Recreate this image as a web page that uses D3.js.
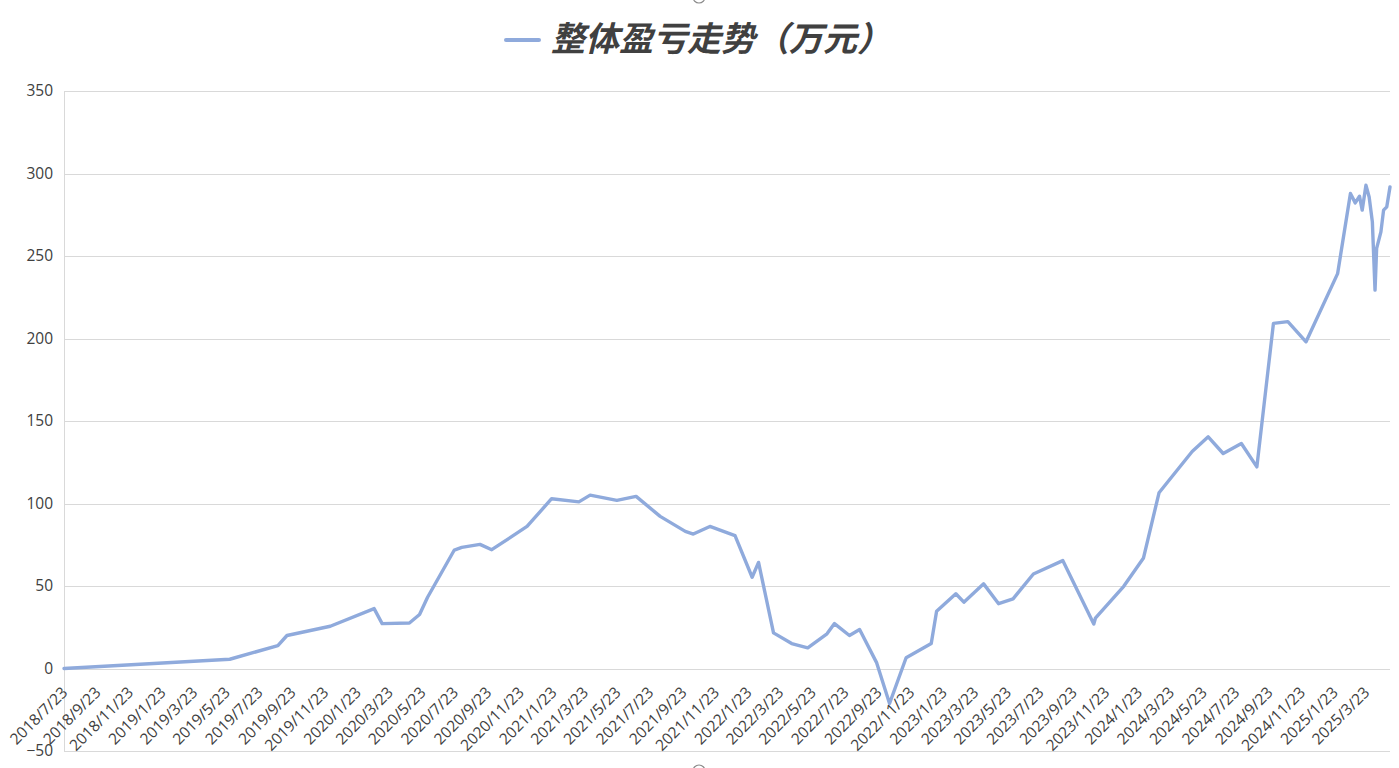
<!DOCTYPE html>
<html>
<head>
<meta charset="utf-8">
<script src="https://cdn.jsdelivr.net/npm/d3@7/dist/d3.min.js"></script>
<style>
  html, body { margin: 0; padding: 0; background: #ffffff; }
  svg { display: block; }
</style>
</head>
<body>
<svg id="chart" width="1399" height="768"></svg>
<script>
// ---- data ----
const dates = [
  "2018-07-23","2019-05-29","2019-08-27","2019-09-13","2019-12-03","2020-02-23","2020-03-09",
  "2020-04-29","2020-05-18","2020-06-02","2020-07-22","2020-08-05","2020-09-08","2020-09-30",
  "2020-12-05","2021-01-20","2021-03-12","2021-04-02","2021-05-22","2021-06-27","2021-08-11",
  "2021-09-27","2021-10-12","2021-11-12","2021-12-29","2022-01-30","2022-02-11","2022-03-11",
  "2022-04-14","2022-05-14","2022-06-19","2022-07-03","2022-07-31","2022-08-19","2022-09-20",
  "2022-10-14","2022-11-14","2022-12-31","2023-01-10","2023-02-15","2023-03-02","2023-04-08",
  "2023-05-06","2023-06-02","2023-07-10","2023-09-03","2023-10-31","2023-11-03","2023-12-26",
  "2024-02-01","2024-03-01","2024-05-02","2024-06-01","2024-06-29","2024-08-02","2024-08-31",
  "2024-10-01","2024-10-28","2024-12-01","2025-01-29","2025-02-22","2025-03-03","2025-03-11",
  "2025-03-16","2025-03-23","2025-03-29","2025-04-04","2025-04-09","2025-04-12","2025-04-20",
  "2025-04-25","2025-05-01","2025-05-07"
];
const profit = [
  0, 5.6, 13.9, 20, 25.6, 36.3, 27.2,
  27.6, 32.7, 43.2, 71.8, 73.4, 75.2, 72,
  86.1, 102.9, 101, 105.1, 101.9, 104.3, 92.2,
  83.1, 81.5, 86.1, 80.5, 55.3, 64.3, 21.6,
  15.1, 12.5, 21, 27.2, 20, 23.6, 3.4,
  -21.2, 6.5, 15.1, 34.7, 45.3, 40.2, 51.3,
  39.3, 42.2, 57.3, 65.4, 27, 30.5, 49.8,
  67, 106.5, 131.5, 140.4, 130.3, 136.4, 122.2,
  209.2, 210.2, 198, 239.3, 287.9, 282.2, 286.2,
  277.8, 292.9, 285.8, 270.7, 229.3, 254.6, 264.6,
  277.8, 279.8, 291.9
];
const yTicks = [-50, 0, 50, 100, 150, 200, 250, 300, 350];
const xTickLabels = [
  "2018/7/23","2018/9/23","2018/11/23","2019/1/23","2019/3/23","2019/5/23","2019/7/23",
  "2019/9/23","2019/11/23","2020/1/23","2020/3/23","2020/5/23","2020/7/23","2020/9/23",
  "2020/11/23","2021/1/23","2021/3/23","2021/5/23","2021/7/23","2021/9/23","2021/11/23",
  "2022/1/23","2022/3/23","2022/5/23","2022/7/23","2022/9/23","2022/11/23","2023/1/23",
  "2023/3/23","2023/5/23","2023/7/23","2023/9/23","2023/11/23","2024/1/23","2024/3/23",
  "2024/5/23","2024/7/23","2024/9/23","2024/11/23","2025/1/23","2025/3/23"
];
const seriesName = "整体盈亏走势（万元）";

// ---- layout ----
const M = { left: 64, right: 1390, top: 91, bottom: 751 };
const lineColor = "#8FAADC";
const gridColor = "#d9d9d9";
const textColor = "#404040";
const font = "'Open Sans', 'Noto Sans', 'Noto Sans CJK SC', sans-serif";

const parse = d3.utcParse("%Y-%m-%d");
const parseLbl = d3.utcParse("%Y/%m/%d");
const data = dates.map((d, i) => ({ date: parse(d), v: profit[i] }));

const x = d3.scaleUtc()
  .domain([parse(dates[0]), parse(dates[dates.length - 1])])
  .range([M.left, M.right]);
const y = d3.scaleLinear().domain([-50, 350]).range([M.bottom, M.top]);

const svg = d3.select("#chart");

// gridlines
svg.append("g")
  .selectAll("line")
  .data(yTicks)
  .join("line")
  .attr("x1", M.left).attr("x2", M.right)
  .attr("y1", d => Math.round(y(d)) + 0.5).attr("y2", d => Math.round(y(d)) + 0.5)
  .attr("stroke", gridColor).attr("stroke-width", 1);

// vertical axis line
svg.append("line")
  .attr("x1", M.left + 0.5).attr("x2", M.left + 0.5)
  .attr("y1", M.top).attr("y2", M.bottom)
  .attr("stroke", gridColor).attr("stroke-width", 1);

// y axis labels
const yAxis = d3.axisLeft(y).tickValues(yTicks).tickSize(0).tickPadding(0);
const gy = svg.append("g").attr("transform", `translate(${M.left - 11},0)`).call(yAxis);
gy.select(".domain").remove();
gy.selectAll("text")
  .attr("fill", textColor)
  .style("font-family", font)
  .style("font-size", "15.5px");

// x axis labels (rotated), hanging below the zero line
const tickDates = xTickLabels.map(s => parseLbl(s));
const xAxis = d3.axisBottom(x).tickValues(tickDates)
  .tickFormat((d, i) => xTickLabels[i]).tickSize(0).tickPadding(0);
const gx = svg.append("g").attr("transform", `translate(0,${y(0)})`).call(xAxis);
gx.select(".domain").remove();
gx.selectAll("text")
  .attr("fill", textColor)
  .style("font-family", font)
  .style("font-size", "15.5px")
  .attr("text-anchor", "end")
  .attr("dy", null)
  .attr("y", 0)
  .attr("transform", "translate(4,25) rotate(-45)");

// line
const line = d3.line().x(d => x(d.date)).y(d => y(d.v)).curve(d3.curveLinear);
svg.append("path")
  .datum(data)
  .attr("d", line)
  .attr("fill", "none")
  .attr("stroke", lineColor)
  .attr("stroke-width", 3.4)
  .attr("stroke-linejoin", "round")
  .attr("stroke-linecap", "round");

// legend / title
const lg = svg.append("g");
lg.append("line")
  .attr("x1", 506).attr("x2", 539)
  .attr("y1", 40).attr("y2", 40)
  .attr("stroke", lineColor).attr("stroke-width", 4)
  .attr("stroke-linecap", "round");
lg.append("text")
  .attr("x", 551).attr("y", 42)
  .attr("dominant-baseline", "middle")
  .attr("fill", "#404040")
  .style("font-family", "'Noto Sans CJK SC', sans-serif")
  .style("font-size", "34px")
  .style("font-weight", "bold")
  .style("font-style", "italic")
  .text(seriesName);

// selection handles (partial circles at top and bottom centre)
svg.append("circle").attr("cx", 699).attr("cy", -3).attr("r", 6)
  .attr("fill", "#fff").attr("stroke", "#8a8a8a").attr("stroke-width", 1.2);
svg.append("circle").attr("cx", 699).attr("cy", 771).attr("r", 6)
  .attr("fill", "#fff").attr("stroke", "#8a8a8a").attr("stroke-width", 1.2);
</script>
</body>
</html>
